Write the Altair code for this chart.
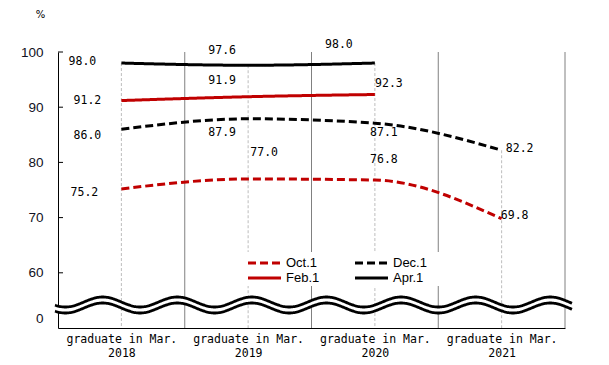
import altair as alt
import pandas as pd
import numpy as np

# ---------------- data ----------------
categories = ["2018", "2019", "2020", "2021"]
x_label_prefix = "graduate in Mar."
series_names = ["Oct.1", "Dec.1", "Feb.1", "Apr.1"]
oct1 = [75.2, 77.0, 76.8, 69.8]
dec1 = [86.0, 87.9, 87.1, 82.2]
feb1 = [91.2, 91.9, 92.3, None]
apr1 = [98.0, 97.6, 98.0, None]
y_tick_labels = [0, 60, 70, 80, 90, 100]

# ---------------- layout / style ----------------
W, H = 507, 276
X_DOM = [0, len(categories)]
Y_DOM = [50, 100]
ZERO_POS = 51.8          # where the "0" label sits below the axis break
XPX = W / (X_DOM[1] - X_DOM[0])
YPX = H / (Y_DOM[1] - Y_DOM[0])

colors = {"Oct.1": "#C00000", "Dec.1": "#000000", "Feb.1": "#C00000", "Apr.1": "#000000"}
dashes = {"Oct.1": [8, 4], "Dec.1": [8, 4], "Feb.1": [1, 0], "Apr.1": [1, 0]}

# data-label offsets in pixels (dx, dy) for each point
label_dx = {"Oct.1": [-37, 16, 9, 13], "Dec.1": [-34, -26, 9, 18],
            "Feb.1": [-34, -26, 14, 0], "Apr.1": [-39, -26, -36, 0]}
label_dy = {"Oct.1": [4, -26, -20, -3], "Dec.1": [7, 14, 10, -1],
            "Feb.1": [0, -16, -11, 0], "Apr.1": [-1, -14, -18, 0]}

xs = alt.Scale(domain=X_DOM, nice=False, zero=False)
ys = alt.Scale(domain=Y_DOM, nice=False, zero=False)
color_scale = alt.Scale(domain=series_names, range=[colors[s] for s in series_names])
dash_scale = alt.Scale(domain=series_names, range=[dashes[s] for s in series_names])

rows = []
for s, vals in zip(series_names, [oct1, dec1, feb1, apr1]):
    for i, (c, v) in enumerate(zip(categories, vals)):
        if v is None:
            continue
        rows.append(dict(series=s, cat=c, x=i + 0.5, value=v,
                         lx=i + 0.5 + label_dx[s][i] / XPX,
                         ly=v - label_dy[s][i] / YPX,
                         label=f"{v:.1f}"))
df = pd.DataFrame(rows)

# boundaries between categories
bound_df = pd.DataFrame({"b": list(range(1, len(categories) + 1)), "top": Y_DOM[1], "bot": Y_DOM[0]})
# drop lines from highest point
drop_df = df.groupby("x", as_index=False)["value"].max()
drop_df["bot"] = Y_DOM[0]

# inward y ticks
tick_df = pd.DataFrame({"pos": [v for v in y_tick_labels if v > 0]})
tick_df["x0"] = 0.0
tick_df["x1"] = 5 / XPX

# axis-break wave (decoration)
px0, px_crest, period_px = 58, 102.7, 74.6
wx = np.linspace((55 - px0) / XPX, (572 - px0) / XPX, 500)
phase = 2 * np.pi * (wx - (px_crest - px0) / XPX) / (period_px / XPX)
up_c = Y_DOM[1] - (302 - 52) / YPX
lo_c = Y_DOM[1] - (308 - 52) / YPX
amp = 5 / YPX
wave_df = pd.DataFrame({"wx": wx, "up": up_c + amp * np.cos(phase), "lo": lo_c + amp * np.cos(phase)})

# legend (inside plot)
def dx_(p):
    return (p - px0) / XPX

def dy_(p):
    return Y_DOM[1] - (p - 52) / YPX

leg_col_x = [248, 355]
leg_row_y = [263, 278]
leg_rows = []
for i, s in enumerate(series_names):
    c, r = i % 2, i // 2
    leg_rows.append(dict(series=s, x1=dx_(leg_col_x[c]), x2=dx_(leg_col_x[c] + 33),
                         tx=dx_(leg_col_x[c] + 38), y=dy_(leg_row_y[r])))
leg_df = pd.DataFrame(leg_rows)
box_df = pd.DataFrame([dict(x1=dx_(242), x2=dx_(441), y1=dy_(252), y2=dy_(286))])

# ---------------- layers ----------------
x_axis = alt.Axis(values=[i + 0.5 for i in range(len(categories))],
                  labelExpr="['" + x_label_prefix + "', " + str(categories) + "[floor(datum.value)]]",
                  grid=False, ticks=False, tickSize=0, labelFlush=False, labelOverlap=False,
                  labelFont="DejaVu Sans Mono", labelFontSize=11.5, labelLineHeight=14,
                  labelPadding=5, labelColor="black", title=None, domainColor="black")
y_axis = alt.Axis(values=[ZERO_POS] + [v for v in y_tick_labels if v > 0],
                  labelExpr="datum.value < 55 ? '0' : format(datum.value, 'd')",
                  grid=False, ticks=False, tickSize=0, labelFont="Liberation Sans",
                  labelFontSize=13.5, labelPadding=15, labelColor="#111122",
                  domainColor="black", title="%", titleAngle=0, titleX=-18, titleY=-38,
                  titleAlign="center", titleBaseline="middle", titleFont="DejaVu Sans",
                  titleFontSize=10, titleFontWeight="normal", titleColor="black")

bounds = alt.Chart(bound_df).mark_rule(color="#808080", strokeWidth=1).encode(
    x=alt.X("b:Q", scale=xs, axis=x_axis),
    y=alt.Y("top:Q", scale=ys, axis=y_axis),
    y2="bot:Q")

drops = alt.Chart(drop_df).mark_rule(color="#BDBDBD", strokeWidth=1, strokeDash=[3, 2]).encode(
    x=alt.X("x:Q", scale=xs), y=alt.Y("value:Q", scale=ys), y2="bot:Q")

box = alt.Chart(box_df).mark_rect(color="white").encode(
    x=alt.X("x1:Q", scale=xs), x2="x2:Q", y=alt.Y("y1:Q", scale=ys), y2="y2:Q")

lines = alt.Chart(df).mark_line(strokeWidth=3, interpolate="monotone").encode(
    x=alt.X("x:Q", scale=xs), y=alt.Y("value:Q", scale=ys),
    color=alt.Color("series:N", scale=color_scale, legend=None),
    strokeDash=alt.StrokeDash("series:N", scale=dash_scale, legend=None),
    detail="series:N")

wave_fill = alt.Chart(wave_df).mark_area(color="white", opacity=1).encode(
    x=alt.X("wx:Q", scale=xs), y=alt.Y("up:Q", scale=ys), y2="lo:Q")
wave_up = alt.Chart(wave_df).mark_line(color="black", strokeWidth=2.8).encode(
    x=alt.X("wx:Q", scale=xs), y=alt.Y("up:Q", scale=ys))
wave_lo = alt.Chart(wave_df).mark_line(color="black", strokeWidth=2.8).encode(
    x=alt.X("wx:Q", scale=xs), y=alt.Y("lo:Q", scale=ys))

ticks = alt.Chart(tick_df).mark_rule(color="black", strokeWidth=1).encode(
    x=alt.X("x0:Q", scale=xs), x2="x1:Q", y=alt.Y("pos:Q", scale=ys))

leg_sym = alt.Chart(leg_df).mark_rule(strokeWidth=3).encode(
    x=alt.X("x1:Q", scale=xs), x2="x2:Q", y=alt.Y("y:Q", scale=ys),
    color=alt.Color("series:N", scale=color_scale, legend=None),
    strokeDash=alt.StrokeDash("series:N", scale=dash_scale, legend=None))
leg_txt = alt.Chart(leg_df).mark_text(align="left", baseline="middle", font="Liberation Sans",
                                      fontSize=13, color="black").encode(
    x=alt.X("tx:Q", scale=xs), y=alt.Y("y:Q", scale=ys), text="series:N")

labels = alt.Chart(df).mark_text(font="DejaVu Sans Mono", fontSize=11.5, align="center",
                                 baseline="middle", color="black").encode(
    x=alt.X("lx:Q", scale=xs), y=alt.Y("ly:Q", scale=ys), text="label:N")

chart = alt.layer(bounds, drops, box, lines, wave_fill, wave_up, wave_lo, ticks,
                  leg_sym, leg_txt, labels).properties(
    width=W, height=H,
    autosize=alt.AutoSizeParams(type="none"),
    padding={"left": 50, "top": 44, "right": 12, "bottom": 36},
    background="white",
).configure_view(stroke=None)

chart.save("out.html", embed_options={"renderer": "svg", "actions": False})
